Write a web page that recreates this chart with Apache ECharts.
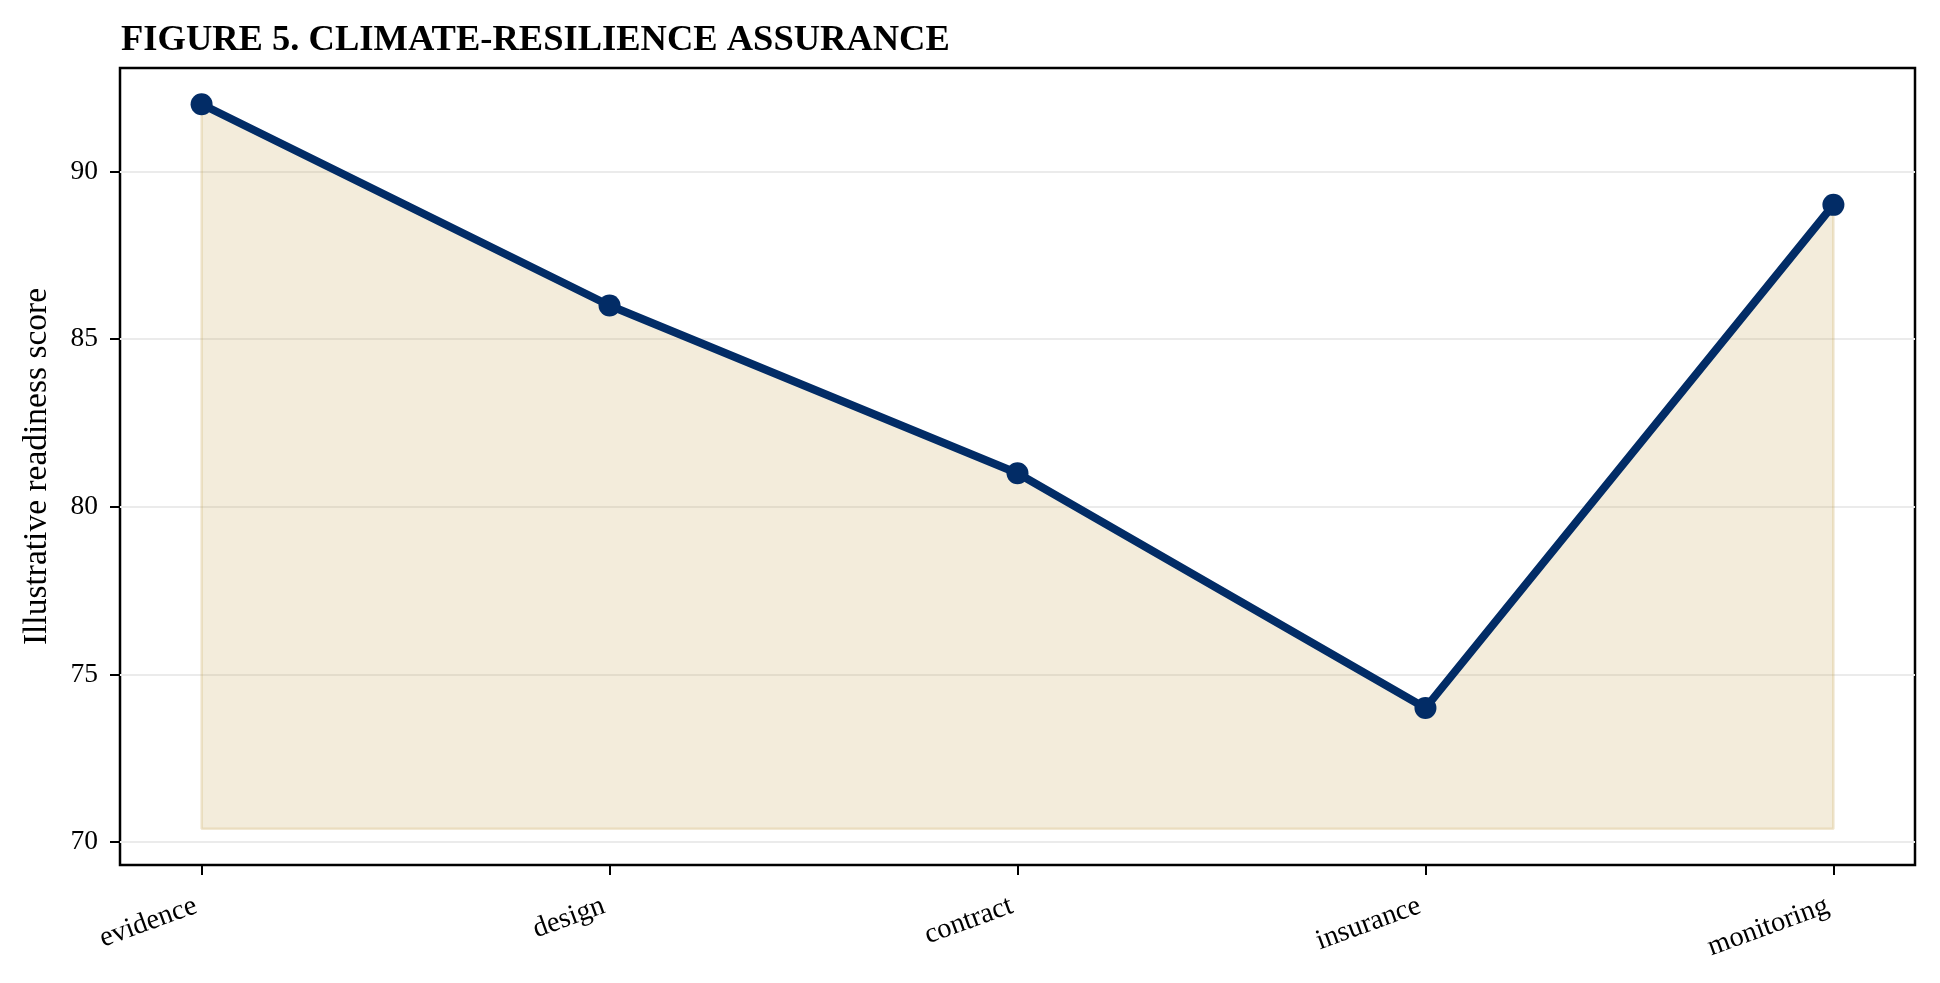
<!DOCTYPE html>
<html>
<head>
<meta charset="utf-8">
<title>Figure 5. Climate-resilience assurance</title>
<script src="https://cdn.jsdelivr.net/npm/echarts@6/dist/echarts.min.js"></script>
<style>
  html, body { margin: 0; padding: 0; background: #fff; }
  #main { width: 1940px; height: 983px; }
</style>
</head>
<body>
<div id="main"></div>
<script>
// data
const stages = ['evidence', 'design', 'contract', 'insurance', 'monitoring'];
const scores = [92, 86, 81, 74, 89];
const fillBase = 70.4;            // lower edge of the shaded band
const yTicks = [70, 75, 80, 85, 90];
const stageIdx = [0, 1, 2, 3, 4];

const serif = '"Liberation Serif", "Times New Roman", serif';
const navy = '#022c66';

let myChart = echarts.init(document.getElementById('main'));

// outline of the shaded area (left, bottom, right edges)
let last = scores.length - 1;
let edge = [
  [0, scores[0]],
  [0, fillBase],
  [last, fillBase],
  [last, scores[last]]
];

let option = {
  animation: false,
  title: {
    text: 'FIGURE 5. CLIMATE-RESILIENCE ASSURANCE',
    left: 116,
    top: 17,
    textStyle: {
      fontFamily: serif,
      fontWeight: 'bold',
      fontSize: 36.5,
      color: '#000'
    }
  },
  grid: {
    left: 120,
    right: 25,
    top: 68,
    bottom: 118,
    show: true,
    borderColor: '#000',
    borderWidth: 2.5,
    backgroundColor: 'transparent'
  },
  xAxis: {
    type: 'value',
    min: -0.2,
    max: 4.2,
    axisLine: { show: false, onZero: false },
    splitLine: { show: false },
    axisTick: {
      show: true,
      customValues: stageIdx,
      length: 10,
      lineStyle: { color: '#000', width: 2 }
    },
    axisLabel: {
      customValues: stageIdx,
      rotate: 20,
      margin: 38,
      padding: [0, 6, 0, 0],
      fontFamily: serif,
      fontSize: 28.5,
      color: '#000',
      formatter: function (v) { return stages[v]; }
    }
  },
  yAxis: {
    type: 'value',
    min: 69.32,
    max: 93.08,
    name: 'Illustrative readiness score',
    nameLocation: 'middle',
    nameGap: 66,
    nameTextStyle: { fontFamily: serif, fontSize: 33.5, color: '#000' },
    axisLine: { show: false, onZero: false },
    axisTick: {
      show: true,
      customValues: yTicks,
      length: 10,
      lineStyle: { color: '#000', width: 2 }
    },
    axisLabel: {
      customValues: yTicks,
      margin: 22,
      fontFamily: serif,
      fontSize: 27.5,
      color: '#000'
    },
    splitLine: {
      show: true,
      lineStyle: { color: '#ebebeb', width: 2 }
    }
  },
  series: [
    {
      name: 'edge',
      type: 'line',
      data: edge,
      symbol: 'none',
      silent: true,
      lineStyle: { color: 'rgba(200,165,80,0.25)', width: 2.5 },
      z: 1
    },
    {
      name: 'score',
      type: 'line',
      data: stageIdx.map(function (i) { return [i, scores[i]]; }),
      symbol: 'circle',
      symbolSize: 22,
      itemStyle: { color: navy },
      lineStyle: { color: navy, width: 8 },
      areaStyle: {
        origin: fillBase,
        color: 'rgba(195,160,75,0.2)',
        opacity: 1
      },
      z: 2
    }
  ]
};

myChart.setOption(option);
</script>
</body>
</html>
